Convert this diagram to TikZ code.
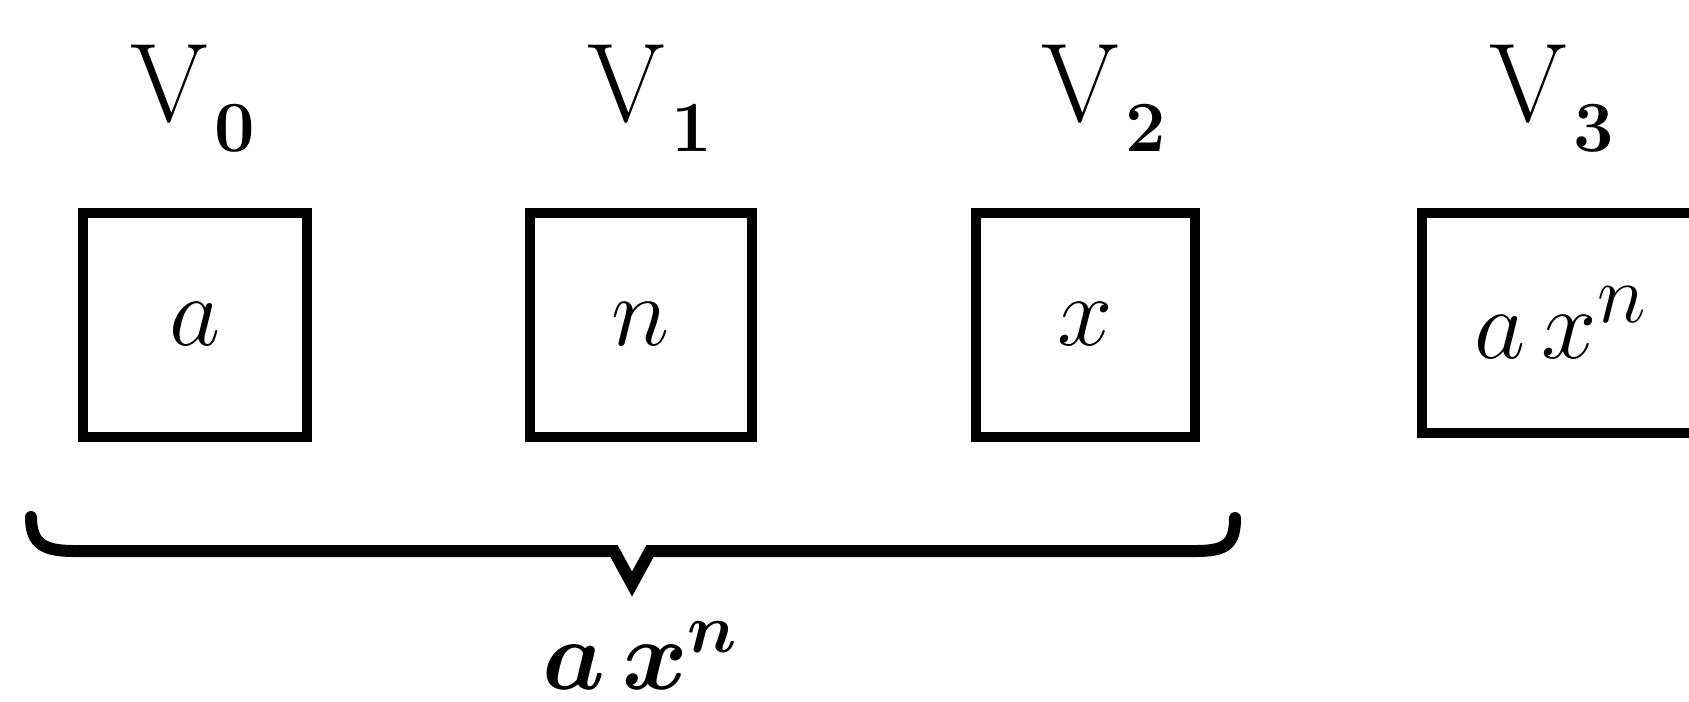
\documentclass[tikz,border=0pt]{standalone}
\usepackage{fontspec}
\usepackage{bm}
\newcommand{\bigfnt}{\fontsize{28}{30}\selectfont}
\newcommand{\sumfnt}{\fontsize{24.5}{26}\selectfont}
\newcommand{\vlabel}[1]{V\kern1.4pt\raisebox{-7.5pt}{\fontsize{18}{19}\selectfont\bfseries #1}}
\tikzset{
  cell/.style={draw, line width=2.5pt, minimum height=56pt, inner sep=0pt, font=\bigfnt},
  vlab/.style={anchor=base west, inner sep=0pt, font=\bigfnt},
  sumlab/.style={anchor=base, inner sep=0pt, font=\sumfnt},
  bracestyle/.style={line width=3pt, line join=miter, line cap=round},
}
\begin{document}
\begin{tikzpicture}[x=0.25pt, y=-0.25pt]
\useasboundingbox (0,0) rectangle (1689,701);
\clip (0,0) rectangle (1689,701);
% labels
\node[vlab] (v0) at (130,121) {\vlabel{0}};
\node[vlab] (v1) at (587,121) {\vlabel{1}};
\node[vlab] (v2) at (1041,121) {\vlabel{2}};
\node[vlab] (v3) at (1489,121) {\vlabel{3}};
% boxes
\node[cell, minimum width=56pt] (b0) at (195,324.5) {$a$};
\node[cell, minimum width=55.5pt] (b1) at (641,324.5) {$n$};
\node[cell, minimum width=54.75pt] (b2) at (1085.5,324.5) {$x$};
\node[cell, minimum width=69.5pt, minimum height=55pt] (b3) at (1561,322.5) {$a\,x^n$};
% brace
\coordinate (bl) at (31,517);
\coordinate (br) at (1235,518);
\coordinate (tip) at (632,584);
\draw[bracestyle] (bl) .. controls (31,545) and (45,551) .. (75,551) -- (614,551) -- (tip) -- (650,551) -- (1195,551) .. controls (1225,551) and (1235,545) .. (br);
\node[sumlab] (total) at (641,689) {$\bm{a\,x^n}$};
\end{tikzpicture}
\end{document}
